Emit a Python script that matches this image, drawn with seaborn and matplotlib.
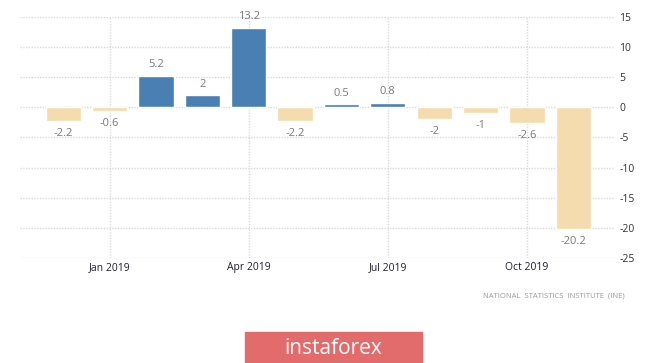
import matplotlib
matplotlib.use("Agg")
import matplotlib.pyplot as plt
import pandas as pd
import seaborn as sns
from matplotlib.patches import Rectangle

# データ
months = ["Dec 2018", "Jan 2019", "Feb 2019", "Mar 2019", "Apr 2019", "May 2019",
          "Jun 2019", "Jul 2019", "Aug 2019", "Sep 2019", "Oct 2019", "Nov 2019"]
values = [-2.2, -0.6, 5.2, 2, 13.2, -2.2, 0.5, 0.8, -2, -1, -2.6, -20.2]
value_labels = ["-2.2", "-0.6", "5.2", "2", "13.2", "-2.2", "0.5", "0.8", "-2", "-1", "-2.6", "-20.2"]
tick_months = ["Jan 2019", "Apr 2019", "Jul 2019", "Oct 2019"]
y_ticks = [15, 10, 5, 0, -5, -10, -15, -20, -25]
source_text = "NATIONAL  STATISTICS  INSTITUTE  (INE)"

BLUE = "#4a7fb3"
BEIGE = "#f5dcae"

df = pd.DataFrame({"month": months, "value": values})
df["sign"] = ["pos" if v >= 0 else "neg" for v in values]

sns.set_style("white")
plt.rcParams["font.family"] = ["Open Sans", "DejaVu Sans"]

fig = plt.figure(figsize=(6.65, 3.63), dpi=100)
ax = fig.add_axes([20 / 665, 1 - 258 / 363, 595 / 665, 241 / 363])

sns.barplot(data=df, x="month", y="value", hue="sign", dodge=False,
            palette={"pos": BLUE, "neg": BEIGE}, width=0.76,
            legend=False, ax=ax, saturation=1)

ax.set_xlim(-0.93, 11.9)
ax.set_ylim(-25, 15)

# グリッド（点線）
for t in y_ticks:
    ax.axhline(t, color="#dadada", lw=1, ls=(0, (1, 1)), zorder=0)
for m in tick_months:
    ax.axvline(months.index(m), color="#dadada", lw=1, ls=(0, (1, 1)), zorder=0)

# 値ラベル
for i, (v, lab) in enumerate(zip(values, value_labels)):
    if v >= 0:
        ax.annotate(lab, (i, v), xytext=(0, 4), textcoords="offset points",
                    ha="center", va="bottom", fontsize=8, color="#7a7a7a")
    else:
        ax.annotate(lab, (i, v), xytext=(0, -5), textcoords="offset points",
                    ha="center", va="top", fontsize=8, color="#7a7a7a")

ax.set_xticks([months.index(m) for m in tick_months])
ax.set_xticklabels(tick_months, fontsize=7.5, color="#1f1f33")
ax.yaxis.tick_right()
ax.set_yticks(y_ticks)
ax.set_yticklabels([str(t) for t in y_ticks], fontsize=7.5, color="#333333")
ax.tick_params(axis="both", length=0, pad=3)
ax.set_xlabel("")
ax.set_ylabel("")
for s in ax.spines.values():
    s.set_visible(False)

# 出典
fig.text(625 / 665, 1 - 296 / 363, source_text, ha="right", va="center",
         fontsize=5.5, color="#9a9a9a")

# バナー
fig.patches.append(Rectangle((245 / 665, 0), 177 / 665, 31 / 363,
                             transform=fig.transFigure, color="#e26b6b", zorder=1))
fig.text(333 / 665, 15 / 363, "instaforex", ha="center", va="center",
         fontsize=15, color="white", zorder=2)

fig.savefig("out.png", dpi=100)
